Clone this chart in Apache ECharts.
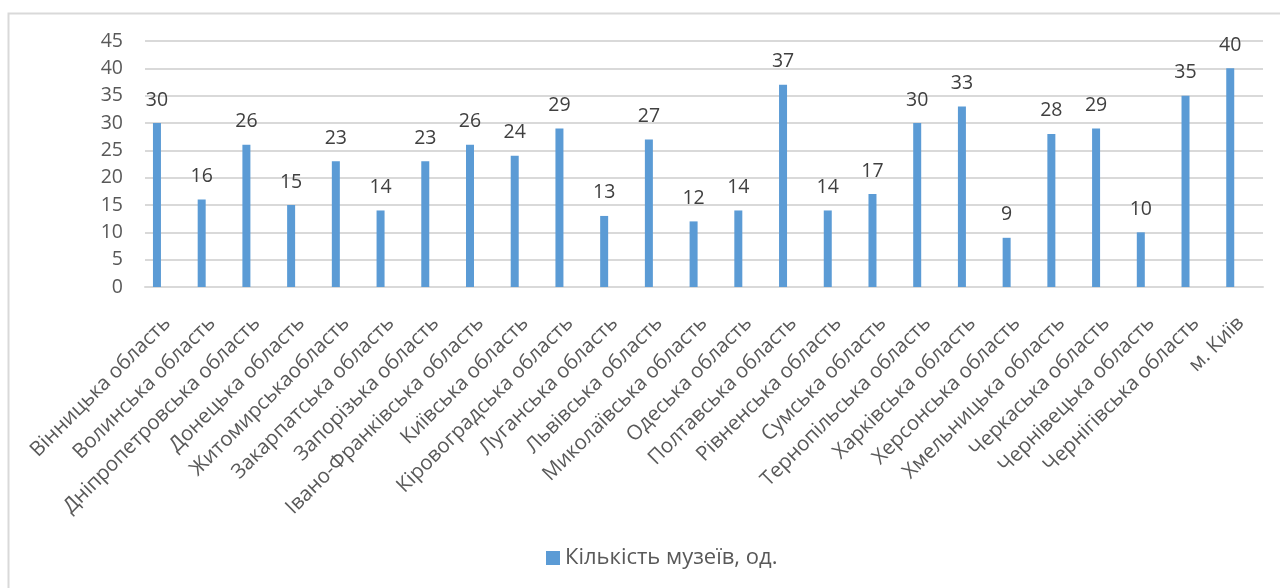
<!DOCTYPE html>
<html>
<head>
<meta charset="utf-8">
<script src="https://cdn.jsdelivr.net/npm/echarts@6/dist/echarts.min.js"></script>
<style>html,body{margin:0;padding:0;background:#fff}#c{width:1280px;height:588px}</style>
</head>
<body>
<div id="c"></div>
<script>
const categories = ["Вінницька область","Волинська область","Дніпропетровська область","Донецька область","Житомирськаобласть","Закарпатська область","Запорізька область","Івано-Франківська область","Київська область","Кіровоградська область","Луганська область","Львівська область","Миколаївська область","Одеська область","Полтавська область","Рівненська область","Сумська область","Тернопільська область","Харківська область","Херсонська область","Хмельницька область","Черкаська область","Чернівецька область","Чернігівська область","м. Київ"];
const museums = [30,16,26,15,23,14,23,26,24,29,13,27,12,14,37,14,17,30,33,9,28,29,10,35,40];
const emptySeries = categories.map(() => null);
const seriesName = "Кількість музеїв, од.";

const chart = echarts.init(document.getElementById('c'));
const font = "'Open Sans', 'Noto Sans', sans-serif";
chart.setOption({
  animation: false,
  textStyle: { fontFamily: font },
  graphic: [{
    type: 'rect', left: 6, top: 11, silent: true,
    shape: { width: 1300, height: 620 },
    style: { fill: 'none', stroke: '#d9d9d9', lineWidth: 2 }
  }],
  grid: { left: 145, right: 17, top: 41, bottom: 301, containLabel: false },
  legend: {
    data: [seriesName], left: 541, top: 542,
    itemWidth: 14, itemHeight: 14, itemGap: 6,
    icon: 'rect',
    textStyle: { fontSize: 22, color: '#595959', fontFamily: font }
  },
  xAxis: {
    type: 'category', data: categories,
    axisLine: { lineStyle: { color: '#d9d9d9', width: 2 } },
    axisTick: { show: false },
    axisLabel: { rotate: 45, interval: 0, margin: 33, fontSize: 20.5, color: '#595959', fontFamily: font }
  },
  yAxis: {
    type: 'value', min: 0, max: 45, interval: 5,
    axisLine: { show: false }, axisTick: { show: false },
    splitLine: { lineStyle: { color: '#d9d9d9', width: 2 } },
    axisLabel: { margin: 22, fontSize: 19.5, color: '#595959', fontFamily: font }
  },
  series: [{
    name: seriesName, type: 'bar', data: museums,
    barWidth: 8, barGap: '160%',
    itemStyle: { color: '#5b9bd5' },
    label: { show: true, position: 'top', distance: 13, fontSize: 19.5, color: '#404040', fontFamily: font }
  }, {
    name: 'empty', type: 'bar', data: emptySeries, barWidth: 8,
    itemStyle: { color: 'transparent' }
  }]
});
</script>
</body>
</html>
